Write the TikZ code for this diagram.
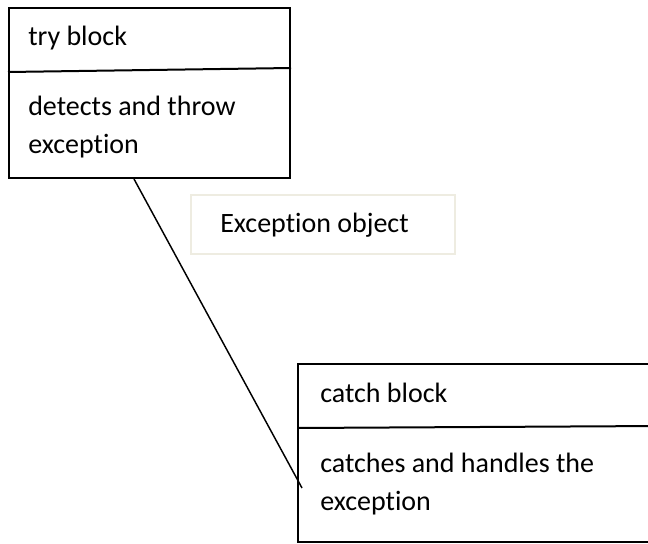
\documentclass[tikz,border=0pt]{standalone}
\usepackage{fontspec}
\setmainfont[Ligatures=NoCommon]{Carlito}
\usetikzlibrary{calc}
\definecolor{notebeige}{HTML}{EEECE1}
\begin{document}
\begin{tikzpicture}[x=0.75pt,y=-0.75pt,
  block/.style={draw=black,line width=1.5pt,rectangle,inner sep=0pt,anchor=north west},
  notebox/.style={draw=notebeige,line width=1.5pt,fill=white,rectangle,inner sep=0pt,anchor=north west},
  divider/.style={draw=black,line width=1.5pt},
  txt/.style={anchor=base west,inner sep=0pt,align=left,font=\fontsize{21}{28.5}\selectfont},
  link/.style={draw=black,line width=1.1pt}]
  % canvas
  \useasboundingbox (0,0) rectangle (648,543);
  \clip (0,0) rectangle (648,543);

  % try block (two-line labels are anchored on their last baseline)
  \node[block,minimum width=210.75pt,minimum height=127.5pt] (try) at (8,7) {};
  \draw[divider] ($(try.north west)+(0,65)$) -- ($(try.north east)+(0,61)$);
  \node[txt] (trytitle) at (28,45) {try block};
  \node[txt] (trybody) at (28,153) {detects and throw\\exception};

  % exception object
  \node[notebox,minimum width=198pt,minimum height=44.25pt] (exc) at (190,194) {};
  \node[txt] (exctext) at (220,232) {Exception object};

  % catch block
  \node[block,minimum width=270pt,minimum height=133.5pt] (catch) at (297,363) {};
  \draw[divider] ($(catch.north west)+(0,65)$) -- ($(catch.north east)+(0,63)$);
  \node[txt] (catchtitle) at (320,402) {catch block};
  \node[txt] (catchbody) at (320,510) {catches and handles the\\exception};

  % thrown exception travels from the try block into the catch block
  \coordinate (caught) at ($(catch.north west)+(5,125)$);
  \draw[link] ($(try.south west)+(126,0)$) -- (caught);
\end{tikzpicture}
\end{document}
